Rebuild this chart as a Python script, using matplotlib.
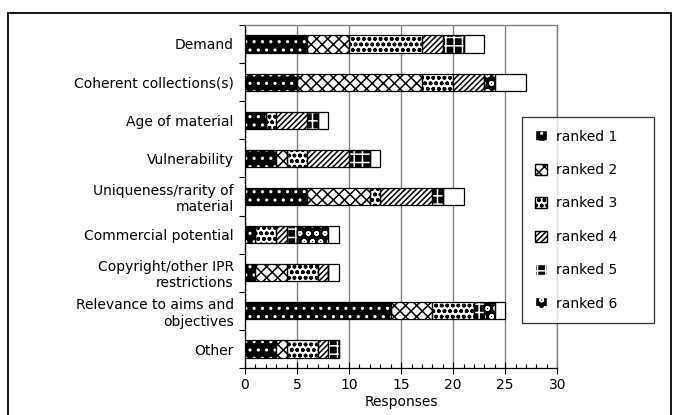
import matplotlib
matplotlib.use("Agg")
import matplotlib.pyplot as plt
from matplotlib.patches import Patch, Rectangle
import numpy as np

plt.rcParams['font.family'] = ['DejaVu Sans']
plt.rcParams['hatch.linewidth'] = 1.1

categories = [
    "Demand",
    "Coherent collections(s)",
    "Age of material",
    "Vulnerability",
    "Uniqueness/rarity of\nmaterial",
    "Commercial potential",
    "Copyright/other IPR\nrestrictions",
    "Relevance to aims and\nobjectives",
    "Other",
]

ranked_1 = [6, 5, 2, 3, 6, 1, 1, 14, 3]
ranked_2 = [4, 12, 0, 1, 6, 0, 3, 4, 1]
ranked_3 = [7, 3, 1, 2, 1, 2, 3, 4, 3]
ranked_4 = [2, 3, 3, 4, 5, 1, 1, 0, 1]
ranked_5 = [2, 0, 1, 2, 1, 1, 0, 1, 1]
ranked_6 = [0, 1, 0, 0, 0, 3, 0, 1, 0]
unranked = [2, 3, 1, 1, 2, 1, 1, 1, 0]

series = [ranked_1, ranked_2, ranked_3, ranked_4, ranked_5, ranked_6, unranked]
labels = ["ranked 1", "ranked 2", "ranked 3", "ranked 4", "ranked 5", "ranked 6", None]
# (face colour, hatch, hatch colour)
styles = [
    ("black", "..", "white"),
    ("white", "XXX", "black"),
    ("white", "ooo", "black"),
    ("white", "//////", "black"),
    ("black", "++", "white"),
    ("black", "oo", "white"),
    ("white", "", "white"),
]

fig = plt.figure(figsize=(6.73, 4.15), dpi=100)
ax = fig.add_axes([0.364, 0.113, 0.464, 0.827])

y = np.arange(len(categories))
left = np.zeros(len(categories))
bar_h = 0.45
for vals, (fc, hatch, hc) in zip(series, styles):
    vals = np.array(vals, dtype=float)
    ax.barh(y, vals, left=left, height=bar_h, color=fc, edgecolor=hc,
            hatch=hatch, linewidth=0, zorder=3)
    ax.barh(y, vals, left=left, height=bar_h, fill=False, edgecolor="black",
            linewidth=0.9, zorder=4)
    left += vals

ax.set_xlim(0, 30)
ax.set_ylim(len(categories) - 0.5, -0.5)
ax.set_xticks(np.arange(0, 31, 5))
ax.set_xticks(np.arange(0, 31, 1), minor=True)
ax.set_yticks(y)
ax.set_yticklabels(categories, fontsize=10, ha="right")
ax.set_yticks(np.arange(-0.5, len(categories), 1), minor=True)
ax.tick_params(axis="y", which="major", length=0, pad=8)
ax.tick_params(axis="y", which="minor", length=4, direction="out", width=0.8)
ax.tick_params(axis="x", which="major", length=8, direction="inout", width=0.8,
               labelsize=10, pad=3)
ax.tick_params(axis="x", which="minor", length=3, direction="in", width=0.8)
ax.set_xlabel("Responses", fontsize=10, labelpad=2)

ax.xaxis.grid(True, which="major", color="#808080", linewidth=1.0, zorder=0)
ax.set_axisbelow(True)
for s in ("top", "right"):
    ax.spines[s].set_color("#808080")
    ax.spines[s].set_linewidth(1.0)
for s in ("left", "bottom"):
    ax.spines[s].set_color("black")
    ax.spines[s].set_linewidth(0.9)

handles = []
for lab, (fc, hatch, hc) in zip(labels, styles):
    if lab is None:
        continue
    handles.append(Patch(facecolor=fc, edgecolor=hc, hatch=hatch, label=lab))
leg = fig.legend(handles=handles, loc="upper left",
                 bbox_to_anchor=(0.776, 0.212, 0.196, 0.506), mode="expand",
                 fontsize=10, frameon=True,
                 fancybox=False, edgecolor="black", handlelength=0.85,
                 handleheight=0.85, labelspacing=1.4, handletextpad=0.7,
                 borderpad=0.9, borderaxespad=0)
leg.get_frame().set_linewidth(0.9)

# outer frame
fig.patches.append(Rectangle((8 / 673, -0.05), (671 - 8) / 673, 1.05 - 13 / 415,
                             transform=fig.transFigure, fill=False,
                             edgecolor="black", linewidth=1.3))

fig.savefig("out.png", dpi=100)
